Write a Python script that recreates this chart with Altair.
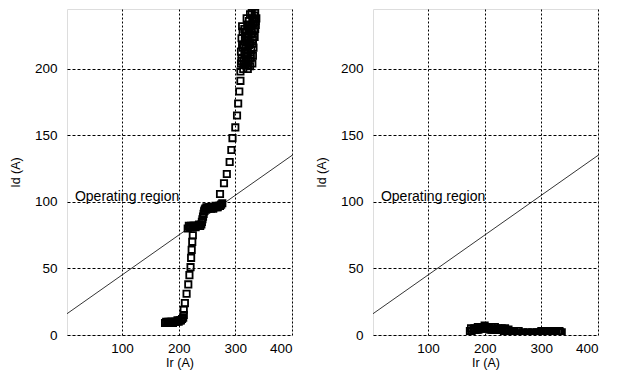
import altair as alt
import pandas as pd

# Left panel measured points (Ir, Id)
left_ir = [176, 178, 180, 182, 184, 186, 188, 190, 192, 194, 196, 198, 200, 202, 204, 206, 208, 209,
           209, 211, 214, 217, 219, 221, 222, 223, 224, 225,
           216, 218, 220, 222, 224, 226, 228, 230, 232, 234, 236, 238, 240,
           241, 242, 243, 244, 245, 246, 247, 249, 251, 253, 255, 257, 259, 261, 263, 265, 267, 269, 271, 273, 275, 277,
           273, 280, 285, 290, 293, 295, 300, 303, 305, 307, 309, 309,
           310, 311, 310, 312, 311, 313, 312, 311, 313,
           314, 315, 316, 315, 317, 316, 315, 317,
           318, 319, 318, 320, 319, 321, 320, 319, 321,
           322, 323, 322, 324, 323, 325, 324, 326, 323, 325,
           326, 327, 328, 327, 329, 328, 330, 329, 327, 329,
           330, 331, 332, 331, 333, 332, 334, 331, 333,
           334, 335, 336, 335, 337, 336]
left_id = [9, 10, 9, 10, 9, 10, 10, 9, 10, 10, 10, 11, 10, 11, 11, 12, 13, 15,
           19, 24, 31, 38, 45, 51, 58, 64, 70, 75,
           80, 82, 81, 82, 81, 82, 82, 81, 82, 82, 83, 82, 83,
           85, 87, 89, 91, 93, 94, 95, 96, 95, 96, 96, 95, 96, 95, 96, 97, 96, 96, 97, 97, 98, 99,
           106, 114, 121, 130, 139, 148, 156, 165, 174, 183, 191, 198,
           204, 208, 213, 218, 223, 228, 232, 206, 216,
           200, 206, 212, 218, 224, 230, 203, 221,
           203, 209, 215, 221, 227, 233, 238, 206, 224,
           200, 206, 212, 218, 224, 230, 236, 241, 203, 233,
           202, 208, 214, 220, 226, 232, 238, 242, 211, 229,
           204, 210, 216, 222, 228, 234, 240, 219, 237,
           224, 230, 236, 242, 238, 233]

# Right panel measured points (Ir, Id)
right_ir = [174, 177, 180, 183, 186, 189, 192, 195, 198, 201, 204, 207, 210, 213, 216, 219, 222, 225, 228, 231,
            234, 237, 240, 243, 246,
            176, 182, 188, 194, 200, 206, 212, 218, 224, 230, 236, 242,
            249, 252, 255, 258, 261, 264, 267, 270, 273, 276, 279, 282, 285, 288, 291, 294, 297, 300,
            303, 306, 309, 312, 315, 318, 321, 324, 327, 330, 333, 336,
            252, 260, 268, 276, 284, 292, 300, 308, 316, 324, 332]
right_id = [3, 3, 4, 4, 4, 4, 5, 5, 5, 5, 5, 5, 4, 4, 4, 4, 4, 4, 4, 4,
            3, 3, 3, 3, 3,
            5, 5, 6, 6, 7, 6, 6, 6, 5, 5, 5, 4,
            2, 2, 1, 1, 1, 1, 1, 1, 1, 1, 1, 1, 1, 1, 1, 1, 2, 2,
            2, 2, 2, 2, 2, 2, 2, 2, 2, 2, 2, 2,
            3, 3, 2, 2, 2, 2, 3, 3, 3, 3, 3]

# Operating-region boundary line
line_ir = [3, 400]
line_id = [16, 135]

label_text = ["Operating region"]
label_ir = [17]
label_id = [101]

x_ticks = [100, 200, 300, 400]
y_ticks = [0, 50, 100, 150, 200]

FONT = "Liberation Sans"


def panel(ir, idv):
    xs = alt.Scale(domain=[3, 400], nice=False, zero=False)
    ys = alt.Scale(domain=[0, 245], nice=False)
    xax = alt.Axis(values=x_ticks, title="Ir (A)", grid=True, gridDash=[2, 2], gridColor="black",
                   gridOpacity=1, gridWidth=1, ticks=False, domain=False, labelPadding=6,
                   labelFontSize=13.5, labelColor="black", labelFont=FONT, titleFont=FONT,
                   titleFontSize=12.5, titleColor="black", titleFontWeight="normal", titlePadding=2)
    yax = alt.Axis(values=y_ticks, title="Id (A)", grid=True, gridDash=[3, 2], gridColor="black",
                   gridOpacity=1, gridWidth=1, ticks=False, domain=False, labelPadding=10,
                   labelFontSize=13.5, labelColor="black", labelFont=FONT, titleFont=FONT,
                   titleFontSize=12.5, titleColor="black", titleFontWeight="normal", titlePadding=12)
    X = alt.X("Ir:Q", scale=xs, axis=xax)
    Y = alt.Y("Id:Q", scale=ys, axis=yax)
    line = alt.Chart(pd.DataFrame({"Ir": line_ir, "Id": line_id})).mark_line(
        color="black", strokeWidth=0.8, clip=True).encode(x=X, y=Y)
    txt = alt.Chart(pd.DataFrame({"Ir": label_ir, "Id": label_id, "t": label_text})).mark_text(
        align="left", baseline="alphabetic", fontSize=14, font=FONT, color="black").encode(
        x=X, y=Y, text="t:N")
    pts = alt.Chart(pd.DataFrame({"Ir": ir, "Id": idv})).mark_square(
        filled=False, size=40, strokeWidth=1.8, color="black", opacity=1, clip=True).encode(x=X, y=Y)
    return alt.layer(line, txt, pts).properties(width=225, height=326)


chart = alt.hconcat(panel(left_ir, left_id), panel(right_ir, right_id), spacing=21).properties(
    padding={"left": 0, "top": 0, "right": 0, "bottom": 0}
).configure_view(stroke="black", strokeWidth=1.2).configure(background="white")

chart.save("out.html", embed_options={"renderer": "svg", "actions": False})
